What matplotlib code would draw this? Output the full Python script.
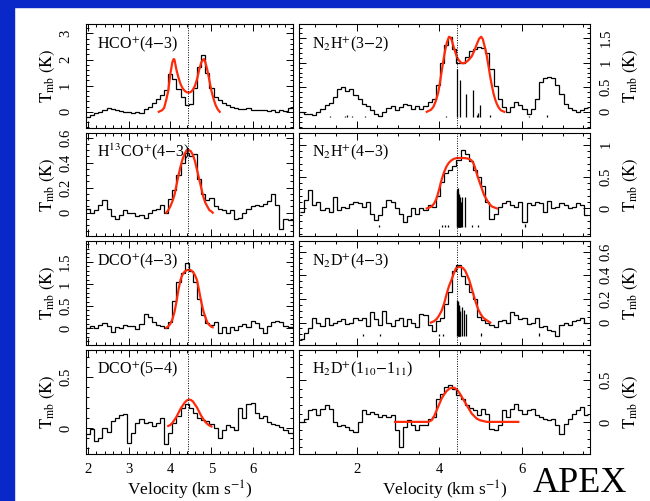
####################
# Imports
####################

import numpy as np
import matplotlib
matplotlib.use("Agg")
import matplotlib.pyplot as plt
from matplotlib.patches import Rectangle
from matplotlib.ticker import MultipleLocator, FuncFormatter


####################
# Data
####################

# channel grids: first edge and channel width (km/s)
left_start, right_start, chan = 1.95, 0.62, 0.1
v_lsr = 4.44

# HCO+(4-3)
hco_T = [-0.19, -0.12, -0.06, -0.02, 0.08, 0.15, 0.10, 0.05, 0.02, -0.02,
         0.00, -0.05, 0.00, -0.03, 0.12, 0.20, 0.32, 0.50, 0.65, 0.82,
         1.45, 1.25, 0.88, 0.55, 0.25, 0.30, 0.90, 1.72, 2.17, 1.50,
         0.90, 0.55, 0.45, 0.32, 0.25, 0.20, 0.15, 0.12, 0.10, 0.15,
         0.05, 0.08, 0.05, 0.08, 0.03, 0.06, 0.00, 0.08, 0.02, 0.15, 0.20]
hco_fit_v = [3.72, 3.80, 3.85, 3.90, 3.95, 4.00, 4.05, 4.08, 4.10, 4.15, 4.20,
             4.25, 4.30, 4.35, 4.40, 4.45, 4.50, 4.55, 4.60, 4.65, 4.70, 4.75,
             4.80, 4.82, 4.85, 4.90, 4.95, 5.00, 5.05, 5.10, 5.15, 5.20]
hco_fit_T = [0.00, 0.06, 0.15, 0.45, 0.80, 1.45, 1.90, 2.02, 2.00, 1.60, 1.30,
             1.05, 0.90, 0.80, 0.75, 0.73, 0.76, 0.85, 1.00, 1.25, 1.60, 1.88,
             2.00, 2.02, 1.90, 1.60, 1.20, 0.80, 0.50, 0.26, 0.10, 0.00]

# H13CO+(4-3)
h13co_T = [0.03, 0.00, 0.02, 0.06, 0.10, 0.03, -0.03, -0.05, -0.02, 0.02,
           0.00, 0.00, -0.03, -0.02, -0.04, 0.00, 0.02, 0.03, 0.06, 0.00,
           0.11, 0.18, 0.30, 0.40, 0.48, 0.45, 0.47, 0.27, 0.15, 0.10,
           0.12, 0.05, 0.03, 0.02, 0.00, 0.02, -0.05, -0.04, 0.00, 0.03,
           0.05, 0.06, 0.05, 0.07, 0.09, 0.15, 0.06, -0.13, -0.05, -0.06, -0.06]
h13co_fit_v = [3.90, 3.95, 4.00, 4.05, 4.10, 4.15, 4.20, 4.25, 4.30, 4.35, 4.40, 4.45,
               4.50, 4.55, 4.60, 4.65, 4.70, 4.75, 4.80, 4.85, 4.90, 4.95, 5.00, 5.03]
h13co_fit_T = [0.00, 0.02, 0.05, 0.09, 0.14, 0.22, 0.30, 0.37, 0.43, 0.47, 0.50, 0.50,
               0.49, 0.46, 0.41, 0.34, 0.27, 0.20, 0.13, 0.08, 0.05, 0.02, 0.01, 0.00]

# DCO+(4-3)
dco43_T = [0.00, 0.04, 0.00, 0.07, 0.12, 0.05, -0.08, 0.02, 0.00, 0.08,
           0.06, 0.04, -0.02, 0.10, 0.32, 0.25, 0.15, 0.08, 0.05, 0.00,
           0.15, 0.62, 1.05, 1.25, 1.47, 1.30, 1.05, 0.65, 0.30, 0.12,
           0.08, 0.13, -0.10, 0.02, -0.10, 0.02, -0.05, 0.06, 0.10, 0.02,
           0.17, 0.12, 0.00, -0.10, 0.05, 0.13, 0.16, 0.13, 0.05, 0.02, 0.02]
dco43_fit_v = [3.90, 3.95, 4.00, 4.05, 4.10, 4.15, 4.20, 4.25, 4.30, 4.35, 4.40, 4.45,
               4.50, 4.55, 4.60, 4.65, 4.70, 4.75, 4.80, 4.85, 4.90, 4.95, 5.00, 5.03]
dco43_fit_T = [0.01, 0.04, 0.10, 0.20, 0.36, 0.60, 0.88, 1.10, 1.22, 1.28, 1.31, 1.32,
               1.31, 1.27, 1.20, 1.08, 0.85, 0.60, 0.40, 0.25, 0.13, 0.07, 0.03, 0.02]

# DCO+(5-4)
dco54_T = [-0.06, -0.01, -0.13, -0.10, 0.00, -0.04, 0.07, 0.10, 0.13, 0.14,
           -0.15, -0.05, 0.05, 0.09, 0.05, 0.06, 0.02, 0.05, 0.10, -0.16,
           -0.05, 0.05, 0.12, 0.20, 0.24, 0.20, 0.15, 0.10, 0.08, 0.07,
           0.04, 0.00, -0.10, -0.02, 0.03, 0.01, -0.02, 0.20, 0.10, 0.24,
           0.25, 0.15, 0.10, 0.12, 0.06, 0.04, 0.03, 0.01, -0.02, -0.05, -0.05]
dco54_fit_v = [3.95, 4.00, 4.05, 4.10, 4.15, 4.20, 4.25, 4.30, 4.35, 4.40, 4.45,
               4.50, 4.55, 4.60, 4.65, 4.70, 4.75, 4.80, 4.85, 4.90, 4.95, 5.00]
dco54_fit_T = [0.02, 0.03, 0.05, 0.08, 0.11, 0.15, 0.19, 0.22, 0.25, 0.27, 0.28,
               0.275, 0.26, 0.23, 0.20, 0.16, 0.12, 0.09, 0.06, 0.04, 0.025, 0.015]

# N2H+(3-2)
n2h32_T = [0.00, -0.04, -0.05, -0.06, 0.00, 0.06, 0.13, 0.18, 0.30, 0.46,
           0.50, 0.43, 0.46, 0.35, 0.27, 0.16, 0.12, 0.03, -0.04, -0.08,
           0.00, 0.08, 0.12, 0.03, 0.10, 0.16, 0.13, 0.05, 0.12, 0.06,
           0.12, 0.20, 0.27, 0.55, 0.99, 1.36, 1.53, 1.29, 0.99, 1.00,
           1.12, 1.23, 1.29, 1.33, 1.31, 1.19, 0.88, 0.53, 0.27, 0.10,
           0.00, 0.10, 0.21, 0.14, 0.05, -0.04, 0.06, 0.27, 0.61, 0.68,
           0.71, 0.68, 0.55, 0.37, 0.16, 0.08, 0.03, -0.01, 0.03, 0.08]
n2h32_fit_v = [3.70, 3.80, 3.86, 3.92, 3.98, 4.02, 4.06, 4.10, 4.14, 4.19, 4.24, 4.28,
               4.31, 4.35, 4.39, 4.43, 4.47, 4.53, 4.59, 4.65, 4.72, 4.79, 4.85, 4.91,
               4.97, 5.02, 5.06, 5.09, 5.13, 5.16, 5.20, 5.24, 5.28, 5.32, 5.36, 5.40,
               5.45, 5.50, 5.58]
n2h32_fit_T = [0.00, 0.04, 0.10, 0.22, 0.40, 0.60, 0.82, 1.03, 1.23, 1.42, 1.53, 1.51,
               1.45, 1.33, 1.22, 1.12, 1.06, 1.00, 0.99, 1.01, 1.06, 1.13, 1.24, 1.37,
               1.49, 1.53, 1.48, 1.38, 1.25, 1.12, 0.92, 0.71, 0.53, 0.37, 0.25, 0.16,
               0.08, 0.03, 0.00]
n2h32_hfs_v = [1.35, 1.72, 1.77, 1.88, 2.20, 4.16, 4.44, 4.50, 4.65, 4.83, 4.92, 4.94,
               5.00, 5.24, 6.17, 6.61]
n2h32_hfs_T = [-0.09, -0.08, -0.07, -0.09, -0.09, -0.08, 0.88, 0.64, 0.37, 0.44, -0.06,
               -0.02, 0.14, -0.07, -0.09, -0.06]

# N2H+(4-3)
n2h43_T = [-0.05, 0.13, 0.29, 0.05, 0.10, -0.02, 0.00, -0.05, 0.18, -0.02,
           0.03, 0.00, 0.07, 0.10, 0.08, 0.03, 0.10, -0.08, -0.18, -0.10,
           0.03, 0.13, 0.10, 0.00, -0.08, -0.21, -0.12, 0.00, -0.08, 0.00,
           -0.02, 0.05, 0.02, 0.20, 0.42, 0.56, 0.60, 0.66, 0.76, 0.92,
           0.85, 0.75, 0.60, 0.50, 0.35, 0.10, -0.16, -0.08, 0.03, 0.08,
           0.12, 0.05, 0.03, 0.10, -0.21, 0.08, 0.05, 0.10, 0.08, -0.05,
           0.12, 0.00, 0.03, 0.08, 0.06, 0.00, 0.03, 0.08, 0.06, -0.10]
n2h43_fit_v = [3.70, 3.82, 3.88, 3.94, 4.00, 4.06, 4.12, 4.18, 4.24, 4.31, 4.37, 4.43,
               4.51, 4.59, 4.67, 4.75, 4.79, 4.83, 4.87, 4.91, 4.97, 5.03, 5.09, 5.16,
               5.22, 5.28, 5.40]
n2h43_fit_T = [0.00, 0.03, 0.08, 0.16, 0.30, 0.45, 0.57, 0.66, 0.72, 0.76, 0.78, 0.79,
               0.79, 0.79, 0.785, 0.77, 0.75, 0.71, 0.64, 0.55, 0.43, 0.32, 0.21, 0.13,
               0.07, 0.03, 0.00]
n2h43_hfs_v = [2.53, 4.06, 4.14, 4.22, 4.43, 4.44, 4.45, 4.46, 4.47, 4.48, 4.49, 4.50,
               4.51, 4.52, 4.56, 4.63, 4.80, 4.94, 6.09]
n2h43_hfs_T = [-0.26, -0.26, -0.26, -0.26, 0.30, 0.28, 0.32, 0.25, 0.20, 0.22, 0.15,
               0.18, 0.12, 0.10, 0.18, 0.18, -0.26, -0.26, -0.25]

# N2D+(4-3)
n2d_T = [-0.14, -0.09, -0.05, 0.04, 0.00, -0.03, 0.04, -0.02, 0.00, 0.01,
         0.03, -0.01, 0.00, 0.04, 0.02, 0.04, -0.03, 0.09, 0.03, -0.02,
         0.10, 0.00, -0.03, 0.02, 0.04, -0.03, 0.03, 0.00, -0.04, 0.07,
         0.06, -0.02, -0.07, 0.01, 0.04, 0.16, 0.26, 0.44, 0.49, 0.39,
         0.33, 0.26, 0.20, 0.05, 0.02, 0.00, -0.02, -0.04, 0.01, 0.02,
         0.00, 0.09, 0.06, 0.03, 0.04, -0.01, 0.00, 0.04, -0.04, -0.03,
         -0.06, -0.07, -0.11, -0.02, 0.00, -0.02, 0.01, 0.02, 0.04, 0.00]
n2d_fit_v = [3.80, 3.87, 3.94, 4.00, 4.06, 4.12, 4.18, 4.24, 4.31, 4.36, 4.41, 4.47,
             4.53, 4.58, 4.63, 4.68, 4.73, 4.78, 4.83, 4.89, 4.95, 5.01, 5.07, 5.15, 5.24]
n2d_fit_T = [0.00, 0.01, 0.03, 0.06, 0.10, 0.16, 0.24, 0.31, 0.37, 0.42, 0.46, 0.47,
             0.47, 0.46, 0.44, 0.40, 0.36, 0.30, 0.24, 0.17, 0.11, 0.07, 0.04, 0.02, 0.00]
n2d_hfs_v = [2.16, 2.57, 4.00, 4.09, 4.44, 4.45, 4.46, 4.47, 4.48, 4.49, 4.50, 4.51,
             4.55, 4.61, 4.66, 5.02, 6.43]
n2d_hfs_T = [-0.10, -0.10, -0.10, -0.10, 0.19, 0.17, 0.18, 0.15, 0.12, 0.14, 0.10,
             0.08, 0.13, 0.11, 0.07, -0.09, -0.09]

# H2D+(1_10-1_11)
h2d_T = [0.00, 0.04, 0.14, 0.16, 0.08, 0.16, 0.20, 0.16, 0.00, -0.05,
         -0.04, -0.06, -0.10, -0.12, 0.00, 0.14, 0.10, 0.12, 0.10, 0.06,
         0.08, 0.06, 0.08, -0.10, -0.30, -0.06, 0.02, -0.04, -0.10, -0.04,
         -0.04, 0.04, 0.06, 0.28, 0.34, 0.42, 0.44, 0.40, 0.32, 0.27,
         0.20, 0.17, 0.14, 0.08, 0.16, 0.10, -0.08, -0.10, -0.04, 0.14,
         0.06, 0.16, 0.22, 0.14, 0.10, 0.14, 0.16, 0.08, 0.06, 0.04,
         0.02, 0.04, -0.04, -0.14, -0.02, 0.04, 0.10, 0.14, 0.18, 0.08]
h2d_fit_v = [2.93, 3.74, 3.78, 3.82, 3.88, 3.94, 4.00, 4.06, 4.12, 4.18, 4.25, 4.31,
             4.37, 4.43, 4.49, 4.55, 4.61, 4.67, 4.73, 4.79, 4.85, 4.91, 4.99, 5.07,
             5.16, 5.92]
h2d_fit_T = [0.00, 0.00, 0.01, 0.02, 0.07, 0.14, 0.21, 0.28, 0.33, 0.37, 0.40, 0.41,
             0.41, 0.39, 0.35, 0.30, 0.25, 0.20, 0.15, 0.10, 0.07, 0.04, 0.02, 0.01,
             0.00, 0.00]


####################
# Style
####################

blue = "#0a28c8"
red = "#ff2a0a"
plt.rcParams["font.family"] = "serif"
plt.rcParams["font.serif"] = ["Liberation Serif", "DejaVu Serif"]
plt.rcParams["mathtext.fontset"] = "stix"

W, H = 650, 501
fig = plt.figure(figsize=(W / 100, H / 100), dpi=100)

# blue slide frame (top and left)
fig.add_artist(Rectangle((0, 1 - 7 / H), 1, 7 / H, transform=fig.transFigure,
                         color=blue, zorder=0))
fig.add_artist(Rectangle((0, 0), 14 / W, 1, transform=fig.transFigure,
                         color=blue, zorder=0))


####################
# Functions
####################

def px_axes(x0, y0, x1, y1):
    # axes from pixel box (top-left origin)
    return fig.add_axes([x0 / W, 1 - y1 / H, (x1 - x0) / W, (y1 - y0) / H])


def draw_panel(ax, start, values, fit_v, fit_T, label, ylim, ymaj, ymin,
               side, bottom, hfs=None, hfs_base=0.0):
    edges = start + chan * np.arange(len(values) + 1)
    ax.stairs(values, edges, baseline=None, color="black", lw=0.9)
    if hfs is not None:
        ax.vlines(hfs[0], hfs_base, hfs[1], color="black", lw=0.9)
    ax.plot(fit_v, fit_T, color=red, lw=1.6)
    ax.axvline(v_lsr, color="black", lw=0.7, ls=(0, (1, 1.5)))

    if side == "left":
        ax.set_xlim(1.95, 6.99)
        ax.xaxis.set_major_locator(MultipleLocator(1))
        ax.xaxis.set_minor_locator(MultipleLocator(0.2))
    else:
        ax.set_xlim(0.6, 7.66)
        ax.xaxis.set_major_locator(MultipleLocator(2))
        ax.xaxis.set_minor_locator(MultipleLocator(0.5))
    ax.set_ylim(*ylim)
    ax.yaxis.set_major_locator(MultipleLocator(ymaj))
    ax.yaxis.set_minor_locator(MultipleLocator(ymin))

    fmt = FuncFormatter(lambda x, p: f"{x:g}" if abs(x) > 1e-9 else "0")
    ax.xaxis.set_major_formatter(fmt)
    ax.yaxis.set_major_formatter(fmt)

    ax.tick_params(which="both", direction="in", top=True, bottom=True,
                   left=True, right=True, width=0.7, labelsize=10.5)
    ax.tick_params(which="major", length=5)
    ax.tick_params(which="minor", length=2.5)
    ax.tick_params(axis="x", labelbottom=bottom, pad=7)
    if side == "left":
        ax.tick_params(axis="y", labelleft=True, labelright=False, pad=10,
                       labelrotation=90)
    else:
        ax.tick_params(axis="y", labelleft=False, labelright=True, pad=7,
                       labelrotation=90)
    for t in ax.get_yticklabels():
        t.set_va("center")
    for s in ax.spines.values():
        s.set_linewidth(0.8)

    tx = 0.053 if side == "left" else 0.044
    ax.text(tx, 0.77, label, transform=ax.transAxes, fontsize=11.5,
            va="baseline", ha="left")


####################
# Code
####################

row_tops = [24, 132.5, 241, 349.5]
row_h = 104

panels_left = [
    (hco_T, hco_fit_v, hco_fit_T, r"HCO$^{+}$(4$-$3)", (-0.62, 3.36), 1, 0.2),
    (h13co_T, h13co_fit_v, h13co_fit_T, r"H$^{13}$CO$^{+}$(4$-$3)", (-0.19, 0.64), 0.2, 0.05),
    (dco43_T, dco43_fit_v, dco43_fit_T, r"DCO$^{+}$(4$-$3)", (-0.38, 1.97), 0.5, 0.1),
    (dco54_T, dco54_fit_v, dco54_fit_T, r"DCO$^{+}$(5$-$4)", (-0.25, 0.77), 0.5, 0.1),
]
panels_right = [
    (n2h32_T, n2h32_fit_v, n2h32_fit_T, r"N$_2$H$^{+}$(3$-$2)", (-0.33, 1.79), 0.5, 0.1,
     (n2h32_hfs_v, n2h32_hfs_T), -0.11),
    (n2h43_T, n2h43_fit_v, n2h43_fit_T, r"N$_2$H$^{+}$(4$-$3)", (-0.44, 1.19), 0.5, 0.1,
     (n2h43_hfs_v, n2h43_hfs_T), -0.29),
    (n2d_T, n2d_fit_v, n2d_fit_T, r"N$_2$D$^{+}$(4$-$3)", (-0.19, 0.69), 0.2, 0.05,
     (n2d_hfs_v, n2d_hfs_T), -0.11),
    (h2d_T, h2d_fit_v, h2d_fit_T, r"H$_2$D$^{+}$(1$_{10}$$-$1$_{11}$)", (-0.38, 0.87), 0.5, 0.1,
     None, 0.0),
]

for i, p in enumerate(panels_left):
    ax = px_axes(86, row_tops[i], 293.3, row_tops[i] + row_h)
    draw_panel(ax, left_start, p[0], p[1], p[2], p[3], p[4], p[5], p[6],
               "left", i == 3)
    yc = 1 - (row_tops[i] + row_h / 2) / H
    fig.text(47.5 / W, yc, r"$\mathrm{T_{mb}\ (K)}$", rotation=90,
             ha="center", va="center", fontsize=12)

for i, p in enumerate(panels_right):
    ax = px_axes(299, row_tops[i], 590, row_tops[i] + row_h)
    draw_panel(ax, right_start, p[0], p[1], p[2], p[3], p[4], p[5], p[6],
               "right", i == 3, hfs=p[7], hfs_base=p[8])
    yc = 1 - (row_tops[i] + row_h / 2) / H
    fig.text(631 / W, yc, r"$\mathrm{T_{mb}\ (K)}$", rotation=90,
             ha="center", va="center", fontsize=12)

# x labels
fig.text(189.5 / W, 1 - 490 / H, r"Velocity (km s$^{-1}$)", ha="center",
         va="center", fontsize=12.5)
fig.text(444.5 / W, 1 - 490 / H, r"Velocity (km s$^{-1}$)", ha="center",
         va="center", fontsize=12.5)

# instrument tag, kept inside the bottom edge
fig.text(533 / W, 1 / H, "APEX", fontsize=26, ha="left", va="bottom",
         family="Liberation Serif")

fig.savefig("out.png", dpi=100, facecolor="white")
